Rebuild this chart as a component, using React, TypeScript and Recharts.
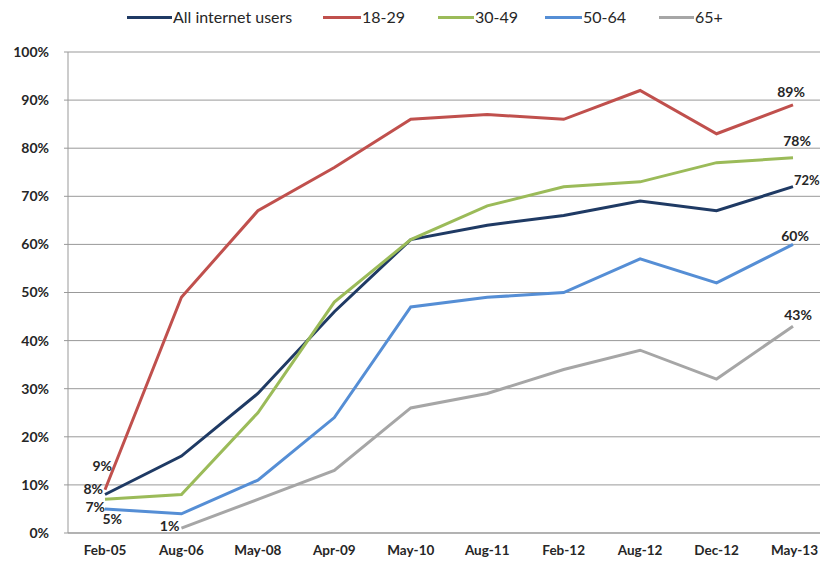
import React from "react";
import { LineChart, Line, XAxis, YAxis, CartesianGrid } from "recharts";

const categories = ["Feb-05", "Aug-06", "May-08", "Apr-09", "May-10", "Aug-11", "Feb-12", "Aug-12", "Dec-12", "May-13"];
const allUsers = [8, 16, 29, 46, 61, 64, 66, 69, 67, 72];
const age18to29 = [9, 49, 67, 76, 86, 87, 86, 92, 83, 89];
const age30to49 = [7, 8, 25, 48, 61, 68, 72, 73, 77, 78];
const age50to64 = [5, 4, 11, 24, 47, 49, 50, 57, 52, 60];
const age65plus = [null, 1, 7, 13, 26, 29, 34, 38, 32, 43];
const yTicks = [0, 10, 20, 30, 40, 50, 60, 70, 80, 90, 100];

const data = categories.map((c, i) => ({
  cat: c,
  all: allUsers[i],
  a: age18to29[i],
  b: age30to49[i],
  c: age50to64[i],
  d: age65plus[i],
}));

const FONT = "Lato, sans-serif";
const TEXT = "#262626";

type Pos = { dx: number; dy: number; anchor: "start" | "middle" | "end"; size?: number };
type SeriesCfg = { key: string; name: string; color: string; first: Pos; last: Pos };

const series: SeriesCfg[] = [
  { key: "all", name: "All internet users", color: "#1F3A64", first: { dx: -2, dy: -6, anchor: "end" }, last: { dx: 1, dy: -7, anchor: "start", size: 13 } },
  { key: "a", name: "18-29", color: "#C0504D", first: { dx: 7, dy: -24, anchor: "end" }, last: { dx: -2, dy: -13, anchor: "middle" } },
  { key: "b", name: "30-49", color: "#9BBB59", first: { dx: 0, dy: 7, anchor: "end" }, last: { dx: 4, dy: -17, anchor: "middle" } },
  { key: "c", name: "50-64", color: "#558ED5", first: { dx: 17, dy: 10, anchor: "end" }, last: { dx: 2, dy: -9, anchor: "middle" } },
  { key: "d", name: "65+", color: "#A6A6A6", first: { dx: -2, dy: -3, anchor: "end" }, last: { dx: 5, dy: -12, anchor: "middle" } },
];

const makeLabel = (cfg: SeriesCfg) => (props: any) => {
  const { x, y, index, value } = props;
  if (value === null || value === undefined) return null;
  const vals = data.map((d: any) => d[cfg.key]);
  const firstIdx = vals.findIndex((v: any) => v !== null && v !== undefined);
  const lastIdx = vals.length - 1;
  let pos: Pos | null = null;
  if (index === firstIdx) pos = cfg.first;
  else if (index === lastIdx) pos = cfg.last;
  if (!pos) return null;
  return (
    <text
      key={`${cfg.key}-${index}`}
      x={x + pos.dx}
      y={y + pos.dy}
      textAnchor={pos.anchor}
      dominantBaseline="central"
      fontFamily={FONT}
      fontSize={pos.size ?? 14}
      fontWeight={700}
      fill={TEXT}
    >
      {`${value}%`}
    </text>
  );
};

const XTick = (props: any) => {
  const { x, y, payload, index } = props;
  const isLast = index === categories.length - 1;
  return (
    <text
      x={isLast ? 818 : x}
      y={y}
      dy="0.71em"
      textAnchor={isLast ? "end" : "middle"}
      fontFamily={FONT}
      fontSize={13.5}
      fontWeight={700}
      fill={TEXT}
    >
      {payload.value}
    </text>
  );
};

const legendPos = [
  { lineX: 127, textX: 173 },
  { lineX: 323, textX: 362 },
  { lineX: 438, textX: 475 },
  { lineX: 545, textX: 583 },
  { lineX: 659, textX: 695 },
];

export default function App() {
  return (
    <div style={{ position: "fixed", left: 0, top: 0, width: 820, height: 563, background: "#fff", overflow: "hidden" }}>
      <LineChart width={820} height={563} data={data} margin={{ top: 52, right: 0, bottom: 0, left: 0 }}>
        <CartesianGrid vertical={false} stroke="#999999" strokeWidth={1} />
        <XAxis
          dataKey="cat"
          height={30}
          padding={{ left: 37, right: 27 }}
          tickLine={false}
          axisLine={{ stroke: "#999999" }}
          tick={<XTick />}
          tickMargin={6}
          interval={0}
        />
        <YAxis
          width={68}
          domain={[0, 100]}
          ticks={yTicks}
          tickFormatter={(v: number) => `${v}%`}
          tickSize={4}
          tickLine={{ stroke: "#999999" }}
          axisLine={{ stroke: "#999999" }}
          tick={{ fontFamily: FONT, fontSize: 14, fontWeight: 700, fill: TEXT }}
          tickMargin={15}
        />
        {series.map((s) => (
          <Line
            key={s.key}
            type="linear"
            dataKey={s.key}
            name={s.name}
            stroke={s.color}
            strokeWidth={3}
            dot={false}
            activeDot={false}
            isAnimationActive={false}
            connectNulls={false}
            label={makeLabel(s)}
          />
        ))}
      </LineChart>
      <div style={{ position: "absolute", left: 0, top: 0, width: 820, height: 36 }}>
        {series.map((s, i) => (
          <React.Fragment key={s.key}>
            <div
              style={{
                position: "absolute",
                left: legendPos[i].lineX,
                top: 16,
                width: legendPos[i].textX - legendPos[i].lineX - 1,
                height: 3,
                background: s.color,
              }}
            />
            <div
              style={{
                position: "absolute",
                left: legendPos[i].textX,
                top: 7,
                fontFamily: FONT,
                fontSize: 16,
                fontWeight: 400,
                color: TEXT,
                lineHeight: "20px",
                whiteSpace: "nowrap",
              }}
            >
              {s.name}
            </div>
          </React.Fragment>
        ))}
      </div>
    </div>
  );
}
